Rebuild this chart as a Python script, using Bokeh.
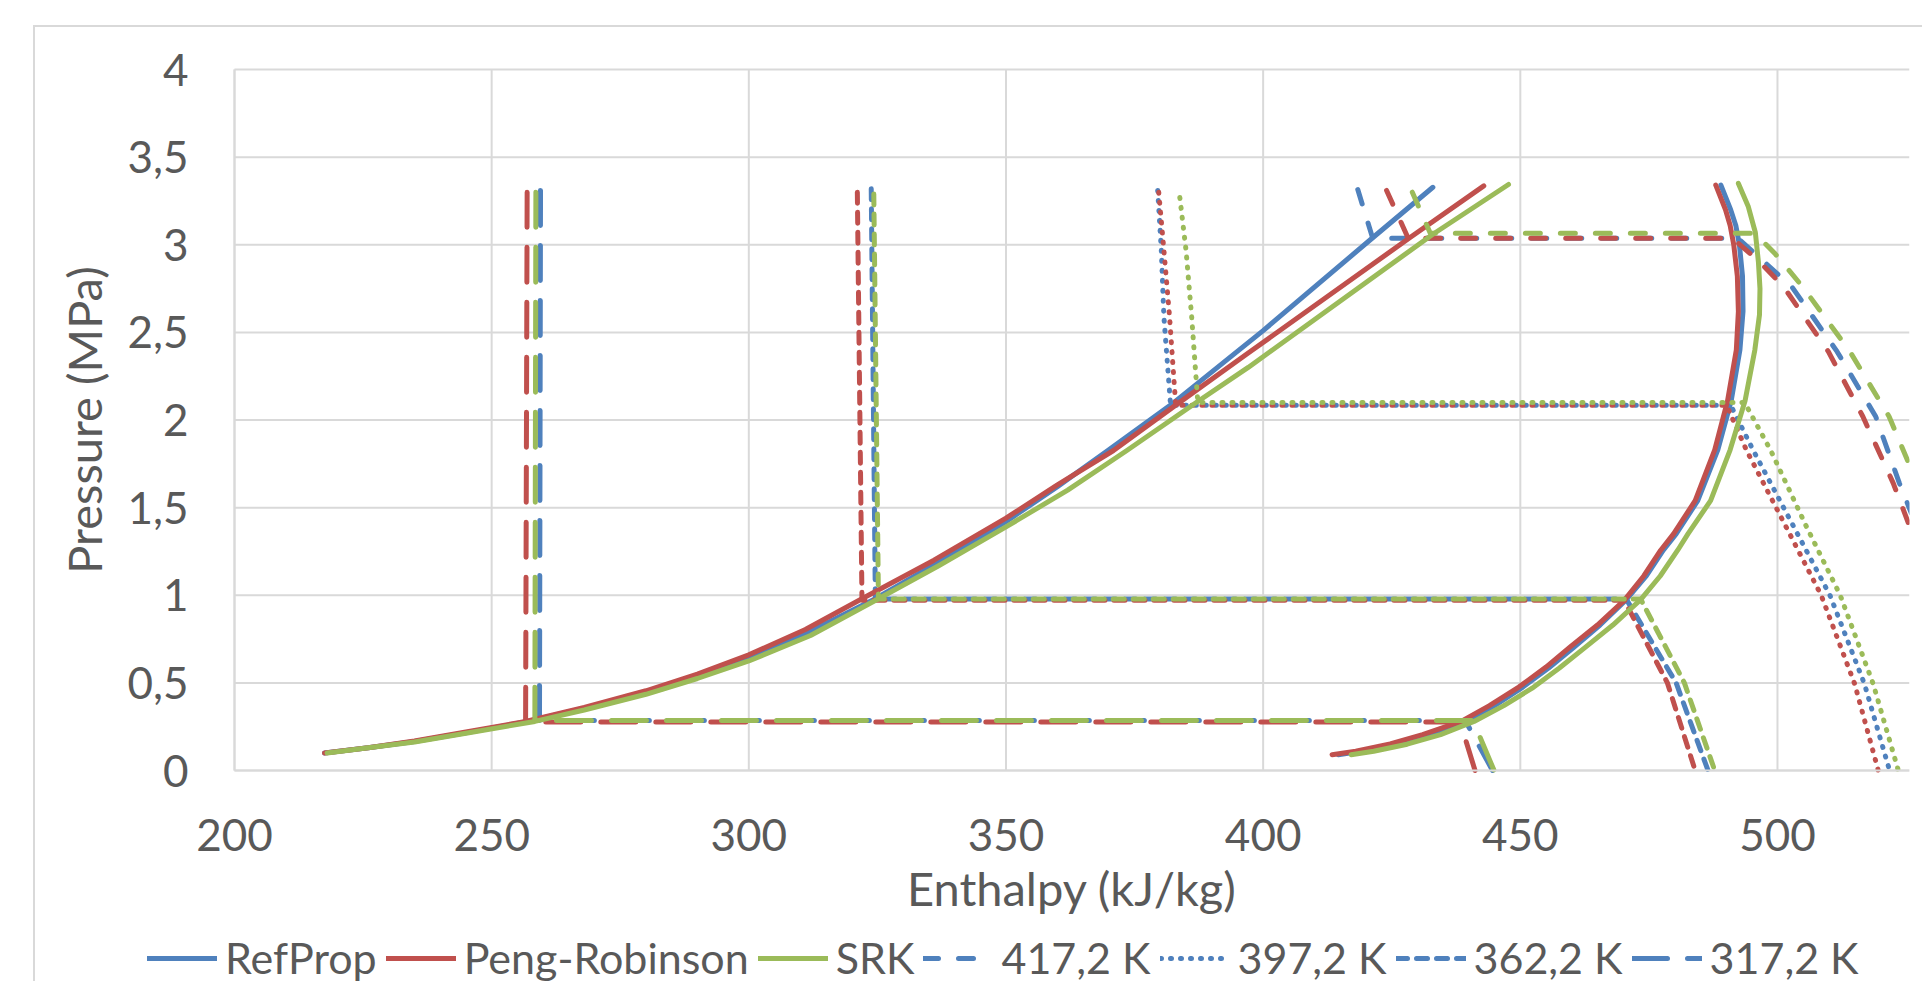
from bokeh.plotting import figure
from bokeh.models import Range1d, FixedTicker, Legend, LegendItem, CustomJSTickFormatter
from bokeh.embed import file_html
from bokeh.resources import INLINE

BLUE = "#4F81BD"
RED = "#C0504D"
GREEN = "#9BBB59"
TXT = "#595959"
GRID = "#D9D9D9"
FONT = "Lato"

x_ticks = [200, 250, 300, 350, 400, 450, 500]
x_tick_labels = ["200", "250", "300", "350", "400", "450", "500"]
y_ticks = [0, 0.5, 1, 1.5, 2, 2.5, 3, 3.5, 4]
y_tick_labels = ["0", "0,5", "1", "1,5", "2", "2,5", "3", "3,5", "4"]
x_axis_end = 525.67

# saturated liquid lines (enthalpy kJ/kg, pressure MPa)
refprop_liq_h = [217.5, 226.0, 235.0, 245.0, 257.0, 268.0, 280.0, 290.0, 300.0, 312.0, 324.6,
                 337.0, 350.0, 360.0, 369.8, 382.0, 400.0, 421.3, 433.0]
refprop_liq_p = [0.10, 0.13, 0.165, 0.215, 0.28, 0.355, 0.44, 0.535, 0.645, 0.795, 0.98,
                 1.19, 1.42, 1.62, 1.826, 2.085, 2.51, 3.04, 3.328]
pr_liq_h = [217.5, 226.0, 235.0, 245.0, 256.6, 268.0, 280.0, 290.0, 300.0, 311.0, 322.0,
            336.0, 350.0, 360.0, 370.9, 383.0, 397.1, 428.5, 442.9]
pr_liq_p = [0.10, 0.13, 0.168, 0.22, 0.28, 0.36, 0.455, 0.55, 0.66, 0.805, 0.98,
            1.20, 1.44, 1.63, 1.826, 2.085, 2.382, 3.04, 3.336]
srk_liq_h = [218.0, 226.0, 235.0, 245.0, 258.4, 268.0, 280.0, 290.0, 300.0, 312.0, 325.2,
             337.0, 350.0, 362.0, 373.5, 387.0, 397.1, 433.0, 447.7]
srk_liq_p = [0.10, 0.13, 0.163, 0.213, 0.28, 0.345, 0.435, 0.525, 0.625, 0.77, 0.98,
             1.17, 1.39, 1.60, 1.826, 2.10, 2.30, 3.06, 3.344]

# saturated vapour lines
refprop_vap_h = [414.6, 419.0, 425.5, 432.0, 439.3, 445.0, 450.2, 455.5, 460.3, 465.5, 470.6,
                 474.5, 477.8, 480.3, 484.5, 488.4, 491.0, 492.7, 493.3, 493.2, 492.6,
                 491.9, 490.9, 489.0]
refprop_vap_p = [0.09, 0.11, 0.15, 0.205, 0.28, 0.37, 0.47, 0.585, 0.70, 0.83, 0.975,
                 1.11, 1.257, 1.35, 1.54, 1.83, 2.11, 2.40, 2.62, 2.82, 3.0,
                 3.11, 3.2, 3.34]
pr_vap_h = [413.4, 418.0, 424.7, 431.0, 438.5, 444.0, 449.7, 455.0, 459.7, 465.0, 470.2,
            474.0, 477.3, 479.8, 484.0, 487.8, 490.3, 492.0, 492.4, 492.2, 491.5,
            490.8, 489.9, 488.0]
pr_vap_p = [0.09, 0.11, 0.152, 0.205, 0.28, 0.37, 0.476, 0.59, 0.705, 0.83, 0.971,
            1.11, 1.257, 1.35, 1.54, 1.83, 2.11, 2.40, 2.62, 2.82, 3.0,
            3.11, 3.2, 3.34]
srk_vap_h = [417.1, 421.5, 428.0, 434.5, 441.0, 446.8, 452.3, 457.6, 462.5, 468.0, 473.4,
             477.2, 480.6, 482.6, 487.0, 490.8, 493.7, 495.6, 496.5, 496.6, 496.3,
             495.7, 494.3, 492.4]
srk_vap_p = [0.09, 0.11, 0.15, 0.205, 0.28, 0.37, 0.47, 0.585, 0.70, 0.83, 0.975,
             1.11, 1.257, 1.35, 1.54, 1.83, 2.11, 2.40, 2.60, 2.75, 2.90,
             3.07, 3.22, 3.35]

# isotherms 417,2 K
t417_refprop_h = [418.4, 421.3, 492.3, 497.5, 502.8, 511.6, 519.1, 523.7, 526.0]
t417_refprop_p = [3.315, 3.037, 3.037, 2.90, 2.76, 2.39, 2.02, 1.64, 1.47]
t417_pr_h = [424.0, 428.2, 491.3, 496.6, 501.2, 509.9, 516.6, 522.5, 526.0]
t417_pr_p = [3.31, 3.037, 3.037, 2.90, 2.76, 2.39, 2.02, 1.64, 1.37]
t417_srk_h = [429.0, 432.5, 495.6, 499.5, 504.9, 514.1, 521.7, 526.0]
t417_srk_p = [3.30, 3.065, 3.065, 2.95, 2.76, 2.39, 2.02, 1.72]

# isotherms 397,2 K
t397_refprop_h = [379.5, 380.2, 380.7, 382.0, 490.9, 495.3, 503.0, 510.2, 516.9, 521.8]
t397_refprop_p = [3.31, 2.97, 2.59, 2.084, 2.084, 1.826, 1.40, 1.0, 0.495, 0.0]
t397_pr_h = [379.7, 380.7, 381.8, 383.0, 490.1, 494.0, 501.5, 508.5, 515.0, 519.6]
t397_pr_p = [3.30, 2.97, 2.59, 2.084, 2.084, 1.826, 1.40, 1.0, 0.495, 0.0]
t397_srk_h = [383.8, 385.0, 386.1, 387.3, 493.6, 498.7, 505.5, 512.2, 518.6, 523.5]
t397_srk_p = [3.27, 2.97, 2.59, 2.10, 2.10, 1.826, 1.40, 1.0, 0.495, 0.0]

# isotherms 362,2 K
t362_refprop_h = [323.8, 324.6, 470.6, 480.3, 486.5]
t362_refprop_p = [3.32, 0.978, 0.978, 0.5, 0.0]
t362_pr_h = [321.1, 322.0, 470.2, 478.6, 484.0]
t362_pr_p = [3.30, 0.972, 0.972, 0.5, 0.0]
t362_srk_h = [324.3, 325.2, 473.4, 481.9, 487.8]
t362_srk_p = [3.29, 0.978, 0.978, 0.5, 0.0]

# isotherms 317,2 K
t317_refprop_h = [259.5, 259.3, 439.3, 444.6]
t317_refprop_p = [3.31, 0.285, 0.285, 0.0]
t317_pr_h = [256.9, 256.6, 438.3, 441.2]
t317_pr_p = [3.30, 0.277, 0.277, 0.0]
t317_srk_h = [258.6, 258.4, 440.8, 444.9]
t317_srk_p = [3.30, 0.285, 0.285, 0.0]

# the frame covers the whole canvas; axes sit at fixed positions inside it
p = figure(width=1889, height=956, output_backend="svg", toolbar_location=None,
           x_range=Range1d(161.31, x_axis_end), y_range=Range1d(-1.2154, 4.2397),
           min_border_left=0, min_border_right=15, min_border_top=0, min_border_bottom=0)
p.styles = {"margin-left": "33px", "margin-top": "25px",
            "border-left": "2px solid #D9D9D9", "border-top": "2px solid #D9D9D9"}
p.outline_line_color = None
p.background_fill_color = "white"
p.border_fill_color = "white"
p.xgrid.visible = False
p.ygrid.visible = False

# gridlines (from the tick lists)
p.segment(x0=x_ticks, y0=[y_ticks[0]] * len(x_ticks), x1=x_ticks, y1=[y_ticks[-1]] * len(x_ticks),
          line_color=GRID, line_width=2)
p.segment(x0=[x_ticks[0]] * len(y_ticks), y0=y_ticks, x1=[x_axis_end] * len(y_ticks), y1=y_ticks,
          line_color=GRID, line_width=2)

for ax in (p.xaxis[0], p.yaxis[0]):
    ax.axis_line_color = GRID
    ax.axis_line_width = 2
    ax.major_tick_line_color = None
    ax.minor_tick_line_color = None
    ax.major_tick_out = 0
    ax.major_tick_in = 0
    ax.major_label_text_font = FONT
    ax.major_label_text_font_size = "44px"
    ax.major_label_text_color = TXT
    ax.axis_label_text_font = FONT
    ax.axis_label_text_font_size = "47px"
    ax.axis_label_text_font_style = "normal"
    ax.axis_label_text_color = TXT

p.xaxis.fixed_location = y_ticks[0]
p.yaxis.fixed_location = x_ticks[0]
p.xaxis.bounds = (x_ticks[0], x_axis_end)
p.yaxis.bounds = (y_ticks[0], y_ticks[-1])
p.xaxis.ticker = FixedTicker(ticks=x_ticks)
p.yaxis.ticker = FixedTicker(ticks=y_ticks)
p.xaxis.formatter = CustomJSTickFormatter(args=dict(labels=x_tick_labels), code="return labels[index]")
p.yaxis.formatter = CustomJSTickFormatter(args=dict(labels=y_tick_labels), code="return labels[index]")
p.xaxis.axis_label = "Enthalpy (kJ/kg)"
p.yaxis.axis_label = "Pressure (MPa)"
p.xaxis.major_label_standoff = 48
p.yaxis.major_label_standoff = 46
p.xaxis.axis_label_standoff = 6
p.yaxis.axis_label_standoff = 12

LW = 5
DASH417 = "15 20"
DOT397 = "1 9"
DASH362 = "11 9"
DASH317 = "35 20"

models = [
    (BLUE, refprop_liq_h, refprop_liq_p, refprop_vap_h, refprop_vap_p,
     [(t417_refprop_h, t417_refprop_p), (t397_refprop_h, t397_refprop_p),
      (t362_refprop_h, t362_refprop_p), (t317_refprop_h, t317_refprop_p)]),
    (RED, pr_liq_h, pr_liq_p, pr_vap_h, pr_vap_p,
     [(t417_pr_h, t417_pr_p), (t397_pr_h, t397_pr_p),
      (t362_pr_h, t362_pr_p), (t317_pr_h, t317_pr_p)]),
    (GREEN, srk_liq_h, srk_liq_p, srk_vap_h, srk_vap_p,
     [(t417_srk_h, t417_srk_p), (t397_srk_h, t397_srk_p),
      (t362_srk_h, t362_srk_p), (t317_srk_h, t317_srk_p)]),
]
dashes = [DASH417, DOT397, DASH362, DASH317]

sat_renderers = []
iso_renderers = None
for color, lh, lp, vh, vp, isos in models:
    r = p.line(lh, lp, line_color=color, line_width=LW, line_cap="round", line_join="round")
    p.line(vh, vp, line_color=color, line_width=LW, line_cap="round", line_join="round")
    sat_renderers.append(r)
    rs = []
    for (ih, ip), d in zip(isos, dashes):
        rs.append(p.line(ih, ip, line_color=color, line_width=LW, line_dash=d,
                         line_cap="round", line_join="round"))
    if iso_renderers is None:
        iso_renderers = rs

items = [
    LegendItem(label="RefProp", renderers=[sat_renderers[0]]),
    LegendItem(label="Peng-Robinson", renderers=[sat_renderers[1]]),
    LegendItem(label="SRK", renderers=[sat_renderers[2]]),
    LegendItem(label="417,2 K", renderers=[iso_renderers[0]]),
    LegendItem(label="397,2 K", renderers=[iso_renderers[1]]),
    LegendItem(label="362,2 K", renderers=[iso_renderers[2]]),
    LegendItem(label="317,2 K", renderers=[iso_renderers[3]]),
]
legend = Legend(items=items, orientation="horizontal", location=(112, 0),
                glyph_width=70, glyph_height=30, label_standoff=8, spacing=9,
                padding=0, margin=0, border_line_color=None, background_fill_alpha=0,
                label_text_font=FONT, label_text_font_size="43px", label_text_color=TXT)
p.add_layout(legend)

open("out.html", "w").write(file_html(p, INLINE))
